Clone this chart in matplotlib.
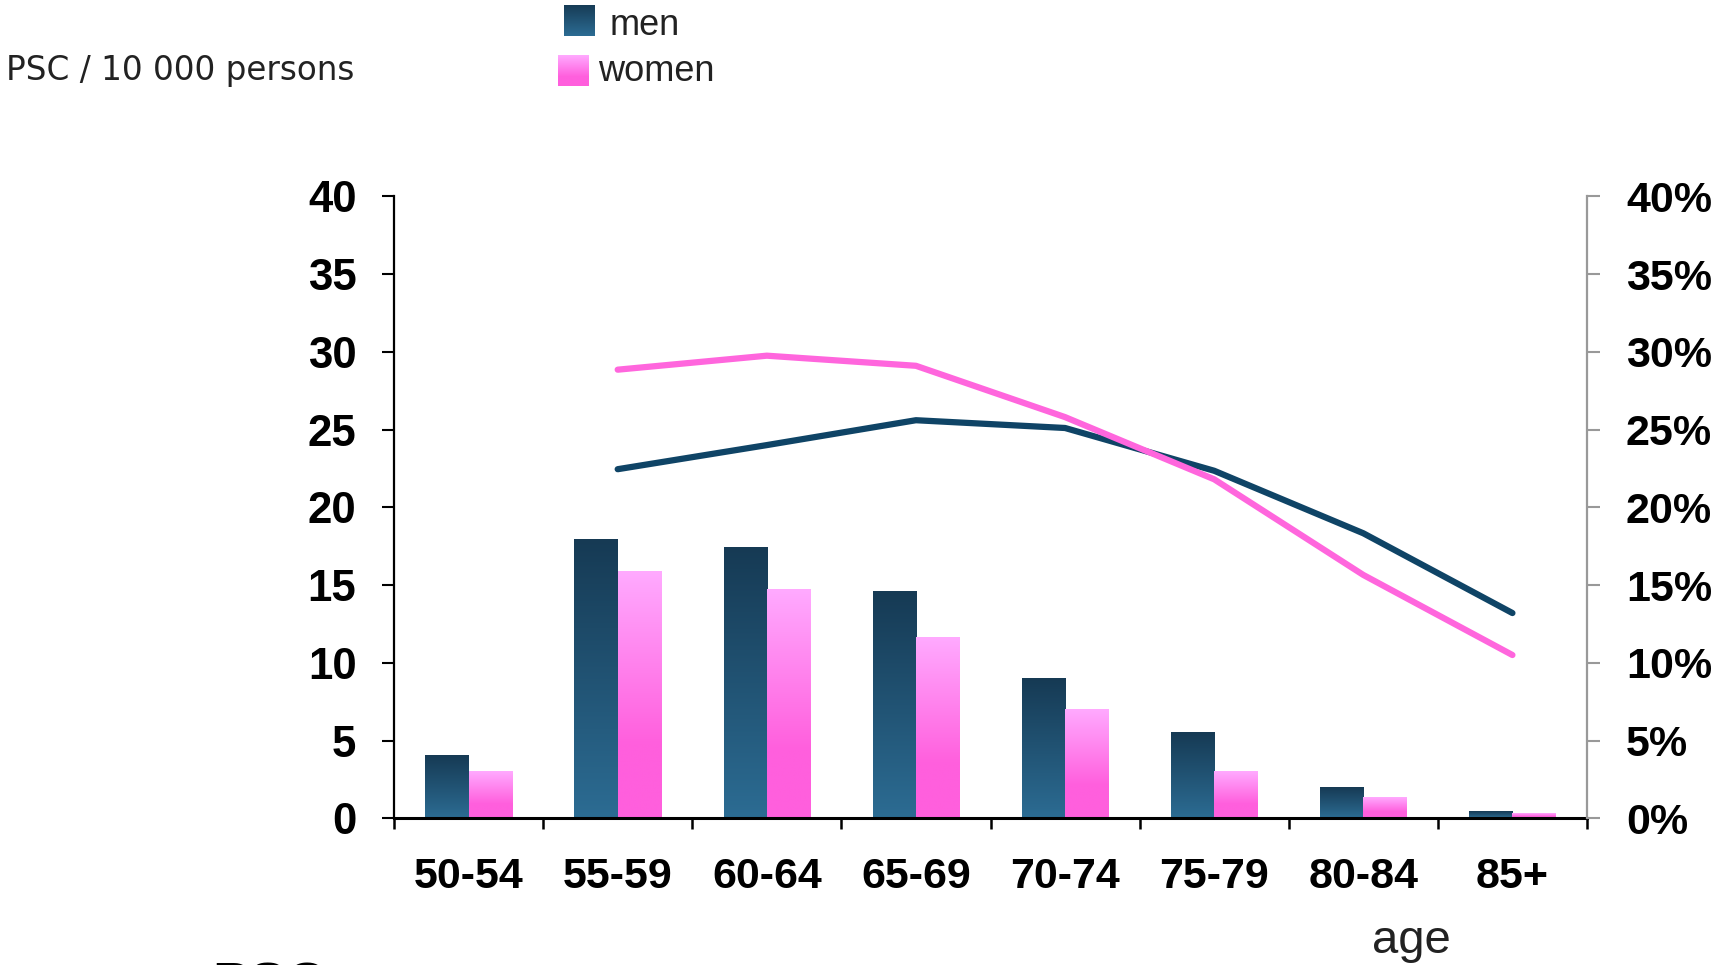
import numpy as np
import matplotlib
matplotlib.use('Agg')
import matplotlib.pyplot as plt
from matplotlib.colors import LinearSegmentedColormap
from matplotlib.ticker import FixedLocator, FuncFormatter

# PSC incidence per 10 000 persons by age group
age_groups = ['50-54', '55-59', '60-64', '65-69', '70-74', '75-79', '80-84', '85+']
men_rate = [4.0, 17.9, 17.4, 14.55, 9.0, 5.5, 1.95, 0.4]
women_rate = [3.0, 15.85, 14.7, 11.6, 6.95, 3.0, 1.3, 0.28]

# share (%) shown on the right axis, from 55-59 onwards
line_groups = age_groups[1:]
men_share = [22.45, 24.0, 25.6, 25.1, 22.35, 18.33, 13.2]
women_share = [28.85, 29.75, 29.1, 25.8, 21.8, 15.65, 10.5]

MEN_DARK, MEN_LIGHT = '#163A54', '#2C6C93'
WOMEN_LIGHT, WOMEN_FULL = '#FFAAFF', '#FF5FDD'
MEN_LINE, WOMEN_LINE = '#0F4466', '#FF66DD'

men_cmap = LinearSegmentedColormap.from_list('men', [MEN_LIGHT, MEN_DARK])
women_cmap = LinearSegmentedColormap.from_list(
    'women', [(0.0, WOMEN_FULL), (0.3, WOMEN_FULL), (1.0, WOMEN_LIGHT)])
grad = np.linspace(0, 1, 256).reshape(-1, 1)

W, H = 1720, 965
fig = plt.figure(figsize=(W / 100, H / 100), dpi=100)
ax = fig.add_axes([394 / W, 1 - 818.3 / H, (1587 - 394) / W, (818.3 - 196.3) / H])

x = np.arange(len(age_groups))
bw = 0.29


def gradient_bar(ax, x0, height, cmap):
    if height <= 0:
        return
    ax.imshow(grad, extent=[x0, x0 + bw, 0, height], origin='lower',
              aspect='auto', cmap=cmap, interpolation='bilinear', zorder=2)


for xi, m, w in zip(x, men_rate, women_rate):
    gradient_bar(ax, xi - bw, m, men_cmap)
    gradient_bar(ax, xi, w, women_cmap)

ax.set_xlim(-0.5, len(age_groups) - 0.5)
ax.set_ylim(0, 40)
ax.set_aspect('auto')

for side in ['top', 'right']:
    ax.spines[side].set_visible(False)
ax.spines['left'].set_linewidth(1.6)
ax.spines['bottom'].set_linewidth(2.2)

ax.set_yticks(np.arange(0, 41, 5))
ax.tick_params(axis='y', direction='out', length=9, width=1.5, pad=18,
               labelsize=31.5)
ax.set_xticks(x)
ax.set_xticklabels(age_groups)
ax.xaxis.set_minor_locator(FixedLocator(np.arange(-0.5, len(age_groups), 1.0)))
ax.tick_params(axis='x', which='major', length=0, pad=28, labelsize=31)
ax.tick_params(axis='x', which='minor', direction='out', length=8, width=1.8)
for lab in ax.get_xticklabels() + ax.get_yticklabels():
    lab.set_fontweight('bold')
    lab.set_fontfamily('Liberation Sans')

ax2 = ax.twinx()
ax2.set_ylim(0, 40)
ax2.set_xlim(ax.get_xlim())
lx = np.arange(1, len(age_groups))
ax2.plot(lx, men_share, color=MEN_LINE, lw=4.5, solid_capstyle='round',
         solid_joinstyle='round', zorder=3)
ax2.plot(lx, women_share, color=WOMEN_LINE, lw=4.5, solid_capstyle='round',
         solid_joinstyle='round', zorder=3)
for side in ['top', 'left', 'bottom']:
    ax2.spines[side].set_visible(False)
ax2.spines['right'].set_color('#999999')
ax2.spines['right'].set_linewidth(1.6)
ax2.set_yticks(np.arange(0, 41, 5))
ax2.yaxis.set_major_formatter(FuncFormatter(lambda v, _: f'{v:.0f}%'))
ax2.tick_params(axis='y', direction='out', length=9, width=1.5, color='#999999',
                pad=19, labelsize=31)
for lab in ax2.get_yticklabels():
    lab.set_fontweight('bold')
    lab.set_fontfamily('Liberation Sans')

# legend swatches and labels
for (x0, y0), cmap, label, tx, base in [((564, 5), men_cmap, 'men', 610, 35),
                                        ((558, 55), women_cmap, 'women', 598, 81)]:
    sw = fig.add_axes([x0 / W, 1 - (y0 + 31) / H, 31 / W, 31 / H])
    sw.imshow(grad, origin='lower', aspect='auto', cmap=cmap,
              interpolation='bilinear')
    sw.axis('off')
    fig.text(tx / W, 1 - base / H, label, fontsize=26,
             family='Liberation Sans', color='#222222', va='baseline')

fig.text(6 / W, 1 - 80 / H, 'PSC / 10 000 persons', fontsize=23.5,
         family='DejaVu Sans', color='#222222', va='baseline')
fig.text(1411 / W, 1 - 953 / H, 'age', fontsize=34, family='Liberation Sans',
         color='#222222', ha='center', va='baseline')
fig.text(212 / W, 1 - 962 / H, 'PSC', fontsize=40, fontweight='bold',
         family='Liberation Sans', color='black', va='top')

fig.savefig('out.png', dpi=100)
